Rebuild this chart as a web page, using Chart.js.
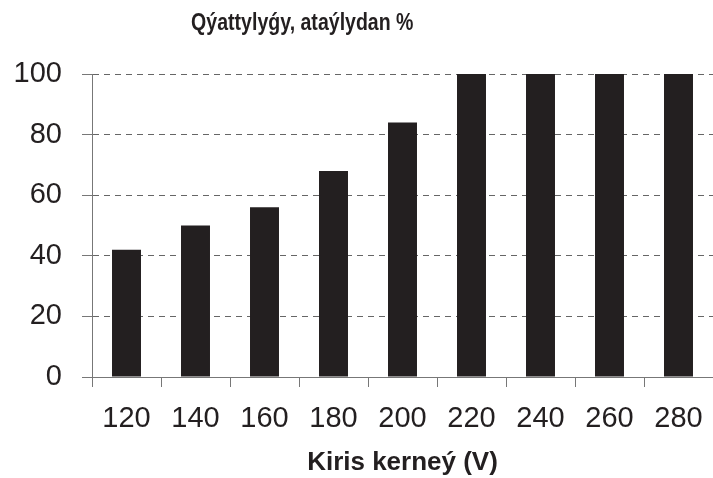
<!DOCTYPE html>
<html>
<head>
<meta charset="utf-8">
<script src="https://cdn.jsdelivr.net/npm/chart.js@4.4.1/dist/chart.umd.min.js"></script>
<style>
  html, body { margin: 0; padding: 0; background: #fff; }
  #wrap { width: 713px; height: 478px; }
</style>
</head>
<body>
<div id="wrap"><canvas id="chart"></canvas></div>
<script>
// data
const voltages = ['120', '140', '160', '180', '200', '220', '240', '260', '280'];
const powerPct = [42, 50, 56, 68, 84, 100, 100, 100, 100];
const yTicks = [0, 20, 40, 60, 80, 100];

const chartTitle = 'Qýattylyǵy, ataýlydan %';
const xTitle = 'Kiris kerneý (V)';

const ink = '#231f20';

// title sits left of centre and is a condensed face in the original,
// so draw it ourselves and squeeze it a little
const topTitle = {
    id: 'topTitle',
    afterDraw(chart) {
        const ctx = chart.ctx;
        ctx.save();
        ctx.fillStyle = ink;
        ctx.font = 'bold 23px "Liberation Sans", Arial, sans-serif';
        ctx.textAlign = 'center';
        ctx.textBaseline = 'middle';
        ctx.translate(chart.width * 0.424, 24);
        ctx.scale(0.85, 1);
        ctx.fillText(chartTitle, 0, 0);
        ctx.restore();
    }
};

new Chart(document.getElementById('chart'), {
    type: 'bar',
    data: {
        labels: voltages,
        datasets: [{
            data: powerPct,
            backgroundColor: ink,
            borderWidth: 0,
            barPercentage: 0.42,
            categoryPercentage: 1
        }]
    },
    options: {
        responsive: true,
        maintainAspectRatio: false,
        animation: false,
        layout: { padding: { top: 74, left: 0, right: 0, bottom: 0 } },
        plugins: {
            legend: { display: false },
            tooltip: { enabled: false }
        },
        scales: {
            x: {
                // plot runs right up to the edge of the picture
                afterFit: (scale) => {
                    scale.paddingLeft = 0;
                    scale.paddingRight = 0;
                },
                grid: {
                    drawOnChartArea: false,
                    offset: true,
                    tickLength: 10,
                    color: '#777'
                },
                border: { color: '#777', width: 1 },
                ticks: {
                    color: ink,
                    padding: 15,
                    font: { family: '"Liberation Sans", Arial, sans-serif', size: 29 }
                },
                title: {
                    display: true,
                    text: xTitle,
                    color: ink,
                    padding: { top: -5, bottom: 0 },
                    font: { family: '"Liberation Sans", Arial, sans-serif', size: 26, weight: 'bold' }
                }
            },
            y: {
                min: 0,
                max: 100,
                afterBuildTicks: (scale) => {
                    scale.ticks = yTicks.map(v => ({ value: v }));
                },
                afterFit: (scale) => {
                    scale.width = 92;
                },
                grid: {
                    color: '#666',
                    tickColor: '#777',
                    tickLength: 10,
                    tickBorderDash: []
                },
                border: { color: '#777', width: 1, dash: [6, 5] },
                ticks: {
                    color: ink,
                    padding: 20,
                    font: { family: '"Liberation Sans", Arial, sans-serif', size: 29 }
                }
            }
        }
    },
    plugins: [topTitle]
});
</script>
</body>
</html>
